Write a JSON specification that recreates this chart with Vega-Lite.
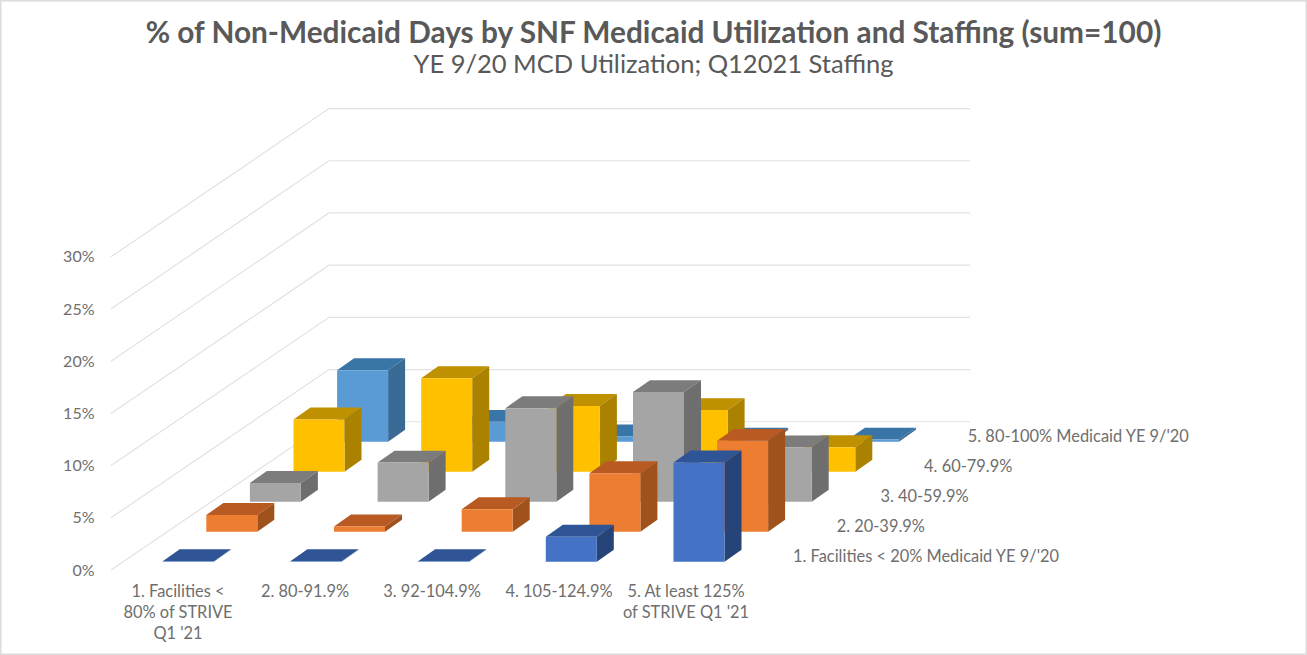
{
"$schema":"https://vega.github.io/schema/vega-lite/v6.json",
"width":1307,"height":655,"autosize":"none","padding":0,"background":"white",
"config":{"view":{"stroke":"#DCDCDC","strokeWidth":3},"font":"Lato"},
"title":{"text":"% of Non-Medicaid Days by SNF Medicaid Utilization and Staffing (sum=100)","subtitle":"YE 9/20 MCD Utilization; Q12021 Staffing","anchor":"middle","frame":"group","offset":-78,"font":"Lato","fontWeight":"bold","fontSize":29.8,"color":"#595959","subtitleFont":"Lato","subtitleFontSize":25.5,"subtitleColor":"#595959","subtitlePadding":4},
"datasets":{
"levels":[{"level":0},{"level":5},{"level":10},{"level":15},{"level":20},{"level":25},{"level":30}],
"bars":[
{"staffing":1,"medicaid":5,"value":6.85},{"staffing":2,"medicaid":5,"value":1.9},{"staffing":3,"medicaid":5,"value":0.5},{"staffing":4,"medicaid":5,"value":0.2},{"staffing":5,"medicaid":5,"value":0.2},
{"staffing":1,"medicaid":4,"value":5.0},{"staffing":2,"medicaid":4,"value":8.95},{"staffing":3,"medicaid":4,"value":6.3},{"staffing":4,"medicaid":4,"value":5.9},{"staffing":5,"medicaid":4,"value":2.35},
{"staffing":1,"medicaid":3,"value":1.8},{"staffing":2,"medicaid":3,"value":3.75},{"staffing":3,"medicaid":3,"value":8.95},{"staffing":4,"medicaid":3,"value":10.5},{"staffing":5,"medicaid":3,"value":5.2},
{"staffing":1,"medicaid":2,"value":1.6},{"staffing":2,"medicaid":2,"value":0.5},{"staffing":3,"medicaid":2,"value":2.15},{"staffing":4,"medicaid":2,"value":5.6},{"staffing":5,"medicaid":2,"value":8.7},
{"staffing":1,"medicaid":1,"value":0.05},{"staffing":2,"medicaid":1,"value":0.05},{"staffing":3,"medicaid":1,"value":0.05},{"staffing":4,"medicaid":1,"value":2.4},{"staffing":5,"medicaid":1,"value":9.5}
],
"staffingLabels":[
{"staffing":1,"label":"1. Facilities <\n80% of STRIVE\nQ1 '21"},{"staffing":2,"label":"2. 80-91.9%"},{"staffing":3,"label":"3. 92-104.9%"},{"staffing":4,"label":"4. 105-124.9%"},{"staffing":5,"label":"5. At least 125%\nof STRIVE Q1 '21"}
],
"medicaidLabels":[
{"medicaid":1,"label":"1. Facilities < 20% Medicaid YE 9/'20"},{"medicaid":2,"label":"2. 20-39.9%"},{"medicaid":3,"label":"3. 40-59.9%"},{"medicaid":4,"label":"4. 60-79.9%"},{"medicaid":5,"label":"5. 80-100% Medicaid YE 9/'20"}
]},
"layer":[
{"data":{"name":"levels"},
"transform":[
{"calculate":"[111,329,970]","as":"gx"},
{"calculate":"[datum.level,datum.level+14.2,datum.level+14.2]","as":"gy"},
{"calculate":"[0,1,2]","as":"seq"},
{"flatten":["gx","gy","seq"]}],
"mark":{"type":"line","color":"#E2E2E2","strokeWidth":1.2},
"encoding":{
"x":{"field":"gx","type":"quantitative","axis":null,"scale":{"domain":[0,1307],"nice":false,"zero":false}},
"y":{"field":"gy","type":"quantitative","scale":{"domain":[-8.142,54.6],"nice":false,"zero":false},
"axis":{"title":null,"values":[0,5,10,15,20,25,30],"grid":false,"domain":false,"ticks":false,"labelPadding":-94,"labelAlign":"right","labelFont":"Lato","labelFontSize":16,"labelColor":"#6E6E6E","labelExpr":"datum.value+'%'"}},
"detail":{"field":"level"},
"order":{"field":"seq","type":"quantitative"}}},
{"data":{"name":"bars"},
"transform":[
{"calculate":"162.7+(datum.staffing-1)*127.7+(datum.medicaid-1)*43.6","as":"bx"},
{"calculate":"0.795+(datum.medicaid-1)*2.874","as":"bb"},
{"calculate":"[datum.bx,datum.bx+51,datum.bx+51+17,datum.bx+17, datum.bx+51,datum.bx+51+17,datum.bx+51+17,datum.bx+51, datum.bx,datum.bx+51,datum.bx+51,datum.bx]","as":"px"},
{"calculate":"[datum.bb+datum.value,datum.bb+datum.value,datum.bb+datum.value+1.14,datum.bb+datum.value+1.14, datum.bb,datum.bb+1.14,datum.bb+1.14+datum.value,datum.bb+datum.value, datum.bb,datum.bb,datum.bb+datum.value,datum.bb+datum.value]","as":"py"},
{"calculate":"['top','top','top','top','side','side','side','side','front','front','front','front']","as":"face"},
{"calculate":"[0,1,2,3,4,5,6,7,8,9,10,11]","as":"seq"},
{"flatten":["px","py","face","seq"]},
{"calculate":"datum.medicaid+'-'+datum.face","as":"shade"},
{"calculate":"datum.medicaid+'-'+datum.staffing+'-'+datum.face","as":"poly"}],
"mark":{"type":"line","filled":true,"strokeWidth":0},
"encoding":{
"x":{"field":"px","type":"quantitative","axis":null,"scale":{"domain":[0,1307],"nice":false,"zero":false}},
"y":{"field":"py","type":"quantitative","scale":{"domain":[-8.142,54.6],"nice":false,"zero":false}},
"detail":{"field":"poly"},
"order":{"field":"seq","type":"quantitative"},
"color":{"field":"shade","type":"nominal","legend":null,"scale":{
"domain":["1-front","1-top","1-side","2-front","2-top","2-side","3-front","3-top","3-side","4-front","4-top","4-side","5-front","5-top","5-side"],
"range":["#4472C4","#2F5597","#264478","#ED7D31","#B85A22","#A0521C","#A5A5A5","#7C7C7C","#6E6E6E","#FFC000","#BF9000","#AB8100","#5B9BD5","#3A75A8","#3A6A96"]}}}},
{"data":{"name":"staffingLabels"},
"transform":[
{"calculate":"178+(datum.staffing-1)*127","as":"lx"},
{"calculate":"-1.3","as":"ly"}],
"mark":{"type":"text","align":"center","baseline":"top","lineBreak":"\n","lineHeight":21,"font":"Lato","fontSize":16.4,"color":"#6E6E6E"},
"encoding":{
"x":{"field":"lx","type":"quantitative","axis":null,"scale":{"domain":[0,1307],"nice":false,"zero":false}},
"y":{"field":"ly","type":"quantitative","scale":{"domain":[-8.142,54.6],"nice":false,"zero":false}},
"text":{"field":"label"}}},
{"data":{"name":"medicaidLabels"},
"transform":[
{"calculate":"793+(datum.medicaid-1)*43.7","as":"lx"},
{"calculate":"1.2+(datum.medicaid-1)*2.874","as":"ly"}],
"mark":{"type":"text","align":"left","baseline":"middle","font":"Lato","fontSize":16.4,"color":"#6E6E6E"},
"encoding":{
"x":{"field":"lx","type":"quantitative","axis":null,"scale":{"domain":[0,1307],"nice":false,"zero":false}},
"y":{"field":"ly","type":"quantitative","scale":{"domain":[-8.142,54.6],"nice":false,"zero":false}},
"text":{"field":"label"}}}
]
}
